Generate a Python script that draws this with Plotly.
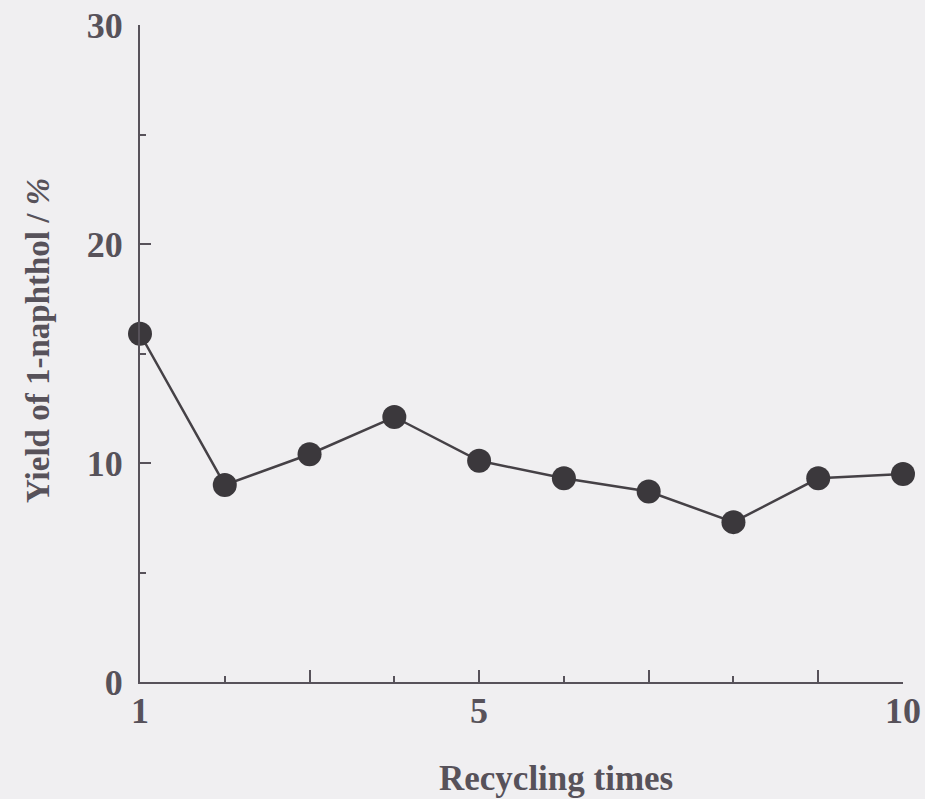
import plotly.graph_objects as go

# Data
recycling_times = [1, 2, 3, 4, 5, 6, 7, 8, 9, 10]
yield_pct = [15.9, 9.0, 10.4, 12.1, 10.1, 9.3, 8.7, 7.3, 9.3, 9.5]

x_label_vals = [1, 5, 10]
x_label_text = ["1", "5", "10"]
x_major_ticks = [3, 5, 7, 9]
x_minor_ticks = [2, 4, 6, 8, 10]
y_tick_vals = [0, 10, 20, 30]
y_tick_text = ["0", "10", "20", "30"]

BG = "#f0eff1"
AX = "#57525a"
FONT = "Liberation Serif, Times New Roman, serif"

fig = go.Figure()
fig.add_trace(go.Scatter(
    x=recycling_times, y=yield_pct, mode="lines+markers",
    line=dict(color="#454146", width=2.5),
    marker=dict(size=24, color="#3b383c", line=dict(width=0)),
    cliponaxis=False, showlegend=False, xaxis="x", yaxis="y",
))
# invisible trace to activate label axis
fig.add_trace(go.Scatter(x=[1, 10], y=[0, 0], mode="markers",
                         marker=dict(opacity=0), showlegend=False,
                         hoverinfo="skip", xaxis="x2", yaxis="y"))

W, H = 925, 799
L, R, T, B = 140, 22, 25, 117

fig.update_layout(
    width=W, height=H,
    margin=dict(l=L, r=R, t=T, b=B, autoexpand=False),
    paper_bgcolor=BG, plot_bgcolor=BG,
    font=dict(family=FONT, color=AX, size=36, weight="bold"),
    xaxis=dict(
        range=[1, 10], showgrid=False, zeroline=False, automargin=False,
        showline=True, linecolor=AX, linewidth=2,
        tickmode="array", tickvals=x_major_ticks, ticks="inside",
        ticklen=12, tickwidth=2, tickcolor=AX, showticklabels=False,
        minor=dict(tickmode="array", tickvals=x_minor_ticks, ticks="inside",
                   ticklen=6, tickwidth=2, tickcolor=AX),
    ),
    xaxis2=dict(
        range=[1, 10], overlaying="x", side="bottom", showgrid=False,
        zeroline=False, showline=False, ticks="", automargin=False,
        tickmode="array", tickvals=x_label_vals, ticktext=x_label_text,
        tickfont=dict(family=FONT, size=36, color=AX, weight="bold"),
        ticklabelstandoff=4,
    ),
    yaxis=dict(
        range=[0, 30], showgrid=False, zeroline=False, automargin=False,
        showline=True, linecolor=AX, linewidth=2,
        tickmode="array", tickvals=y_tick_vals, ticktext=y_tick_text,
        ticks="inside", ticklen=11, tickwidth=2, tickcolor=AX,
        tickfont=dict(family=FONT, size=36, color=AX, weight="bold"),
        ticklabelstandoff=8,
        minor=dict(dtick=5, ticks="inside", ticklen=6, tickwidth=2, tickcolor=AX),
    ),
    annotations=[
        dict(text="Recycling times", xref="paper", yref="paper",
             x=(556 - L) / (W - L - R), y=0, yshift=-(778 - (H - B)),
             xanchor="center", yanchor="middle", showarrow=False,
             font=dict(family=FONT, size=35, color=AX, weight="bold")),
        dict(text="Yield of 1-naphthol / <i>%</i>", xref="paper", yref="paper",
             x=0, xshift=38 - L, y=((H - B) - 341) / (H - B - T),
             xanchor="center", yanchor="middle", textangle=-90, showarrow=False,
             font=dict(family=FONT, size=33, color=AX, weight="bold")),
    ],
)

fig.write_html("out.html")
